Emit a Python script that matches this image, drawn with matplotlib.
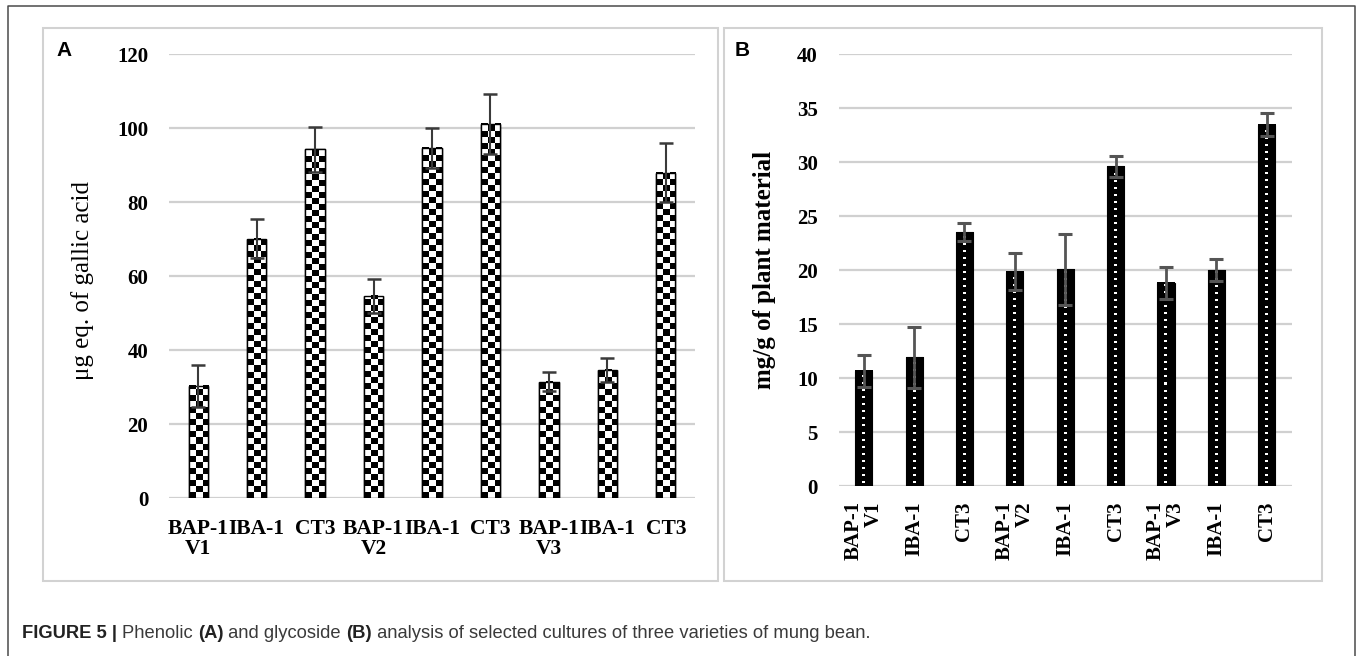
import numpy as np
import matplotlib
matplotlib.use("Agg")
import matplotlib.pyplot as plt
from matplotlib.patches import Rectangle
from matplotlib.lines import Line2D

# ---------------- data ----------------
categories = ["BAP-1\nV1", "IBA-1", "CT3", "BAP-1\nV2", "IBA-1", "CT3",
              "BAP-1\nV3", "IBA-1", "CT3"]
phenolic = [30.3, 70.1, 94.2, 54.6, 94.6, 101.2, 31.4, 34.6, 87.9]
phenolic_err = [5.7, 5.3, 6.1, 4.6, 5.5, 8.1, 2.6, 3.3, 8.0]
glycoside = [10.65, 11.9, 23.5, 19.85, 20.05, 29.6, 18.8, 20.0, 33.45]
glycoside_err = [1.5, 2.85, 0.85, 1.7, 3.3, 0.95, 1.5, 1.0, 1.05]
yticks_a = [0, 20, 40, 60, 80, 100, 120]
yticks_b = [0, 5, 10, 15, 20, 25, 30, 35, 40]
ylabel_a = "μg eq. of gallic acid"
ylabel_b = "mg/g of plant material"

W, H = 1358, 656
fig = plt.figure(figsize=(W / 100, H / 100), dpi=100)
SERIF = "Liberation Serif"
SANS = "Liberation Sans"


def fig_rect(x0, y0, x1, y1):
    return [x0 / W, 1 - y1 / H, (x1 - x0) / W, (y1 - y0) / H]


# ---------------- frames ----------------
outer = Line2D([8 / W, 8 / W, 1355 / W, 1355 / W], [-0.05, 1 - 6 / H, 1 - 6 / H, -0.05],
               transform=fig.transFigure, color="#4a4a4a", lw=1.1)
fig.add_artist(outer)
for (x0, y0, x1, y1) in [(43, 28, 718, 581), (724, 28, 1322, 581)]:
    fig.add_artist(Rectangle((x0 / W, 1 - y1 / H), (x1 - x0) / W, (y1 - y0) / H,
                             transform=fig.transFigure, fill=False,
                             edgecolor="#d2d2d2", lw=1.5))

x = np.arange(len(categories))


def style_axes(ax, yticks, ylim):
    ax.set_xlim(-0.5, len(categories) - 0.5)
    ax.set_ylim(*ylim)
    ax.set_yticks(yticks)
    ax.yaxis.grid(True, color="#d0d0d0", lw=1.6)
    ax.set_axisbelow(True)
    for s in ax.spines.values():
        s.set_visible(False)
    ax.tick_params(length=0)
    ax.set_facecolor("none")


# ---------------- panel A ----------------
axA = fig.add_axes(fig_rect(169, 54, 695, 498))
style_axes(axA, yticks_a, (0, 120))
barsA = axA.bar(x, phenolic, width=0.33, color="white", edgecolor="black", lw=1.0, zorder=2)
for rect in barsA:
    x0 = rect.get_x(); x1 = x0 + rect.get_width(); y1 = rect.get_height()
    (px0, py0), (px1, py1) = axA.transData.transform([(x0, 0), (x1, y1)])
    w = max(int(round(px1 - px0)), 1); h = max(int(round(py1 - py0)), 1)
    jj, ii = np.meshgrid(np.arange(w), np.arange(h))
    tex = ((jj * 3 // w) + (ii // 6)) % 2
    axA.imshow(tex, extent=(x0, x1, 0, y1), origin="lower", cmap="gray", vmin=0, vmax=1,
               interpolation="nearest", aspect="auto", zorder=2.5)
axA.bar(x, phenolic, width=0.33, fill=False, edgecolor="black", lw=1.0, zorder=3)
axA.errorbar(x, phenolic, yerr=phenolic_err, fmt="none", ecolor="#3a3a3a",
             elinewidth=1.5, capsize=5, capthick=1.8, zorder=4)
style_axes(axA, yticks_a, (0, 120))
axA.set_yticklabels([str(v) for v in yticks_a], fontfamily=SERIF, fontweight="bold", fontsize=15)
axA.tick_params(axis="y", pad=15)
axA.set_xticks(x)
axA.set_xticklabels(categories, fontfamily=SERIF, fontweight="bold", fontsize=15.5,
                    multialignment="center", linespacing=1.0)
axA.tick_params(axis="x", pad=15)
axA.set_ylabel(ylabel_a, fontfamily=SERIF, fontsize=18)
axA.yaxis.set_label_coords((94 - 169) / 526, 0.49)

# ---------------- panel B ----------------
axB = fig.add_axes(fig_rect(838.5, 54, 1292, 486))
style_axes(axB, yticks_b, (0, 40))
barsB = axB.bar(x, glycoside, width=0.34, color="black", edgecolor="black", lw=0.8, zorder=2)
for rect in barsB:
    x0 = rect.get_x(); x1 = x0 + rect.get_width(); y1 = rect.get_height()
    (px0, py0), (px1, py1) = axB.transData.transform([(x0, 0), (x1, y1)])
    w = max(int(round(px1 - px0)), 1); h = max(int(round(py1 - py0)), 1)
    tex = np.zeros((h, w))
    c = w // 2
    for r in range(3, h - 2, 7):
        tex[r:r + 2, c - 1:c + 1] = 1
    axB.imshow(tex, extent=(x0, x1, 0, y1), origin="lower", cmap="gray", vmin=0, vmax=1,
               interpolation="nearest", aspect="auto", zorder=2.5)
axB.errorbar(x, glycoside, yerr=glycoside_err, fmt="none", ecolor="#555555",
             elinewidth=2.0, capsize=5, capthick=2.2, zorder=4)
style_axes(axB, yticks_b, (0, 40))
axB.set_yticklabels([str(v) for v in yticks_b], fontfamily=SERIF, fontweight="bold", fontsize=15)
axB.tick_params(axis="y", pad=15)
axB.set_xticks(x)
axB.set_xticklabels(categories, fontfamily=SERIF, fontweight="bold", fontsize=15,
                    rotation=90, va="top", ha="center", multialignment="right",
                    linespacing=1.0)
axB.tick_params(axis="x", pad=11)
axB.set_ylabel(ylabel_b, fontfamily=SERIF, fontweight="bold", fontsize=18)
axB.yaxis.set_label_coords((776 - 838.5) / 453.5, 0.5)

# ---------------- panel letters ----------------
fig.text(56 / W, 1 - 41 / H, "A", fontfamily=SANS, fontweight="bold", fontsize=15,
         ha="left", va="top")
fig.text(735 / W, 1 - 41 / H, "B", fontfamily=SANS, fontweight="bold", fontsize=15,
         ha="left", va="top")

# ---------------- caption ----------------
pieces = [("FIGURE 5 | ", "bold", "#222222"), ("Phenolic ", "normal", "#3a3a3a"),
          ("(A)", "bold", "#222222"), (" and glycoside ", "normal", "#3a3a3a"),
          ("(B)", "bold", "#222222"),
          (" analysis of selected cultures of three varieties of mung bean.", "normal", "#3a3a3a")]
renderer = fig.canvas.get_renderer()
cx = 22
for txt, wt, col in pieces:
    t = fig.text(cx / W, 1 - 638 / H, txt, fontfamily=SANS, fontweight=wt, fontsize=13.2,
                 color=col, ha="left", va="baseline")
    bb = t.get_window_extent(renderer=renderer)
    cx += bb.width

fig.savefig("out.png", dpi=100)
